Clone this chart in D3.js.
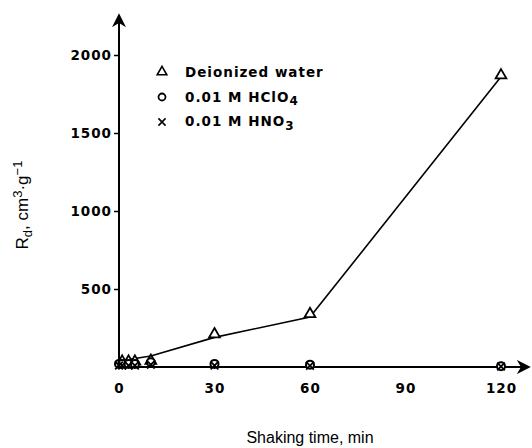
<!DOCTYPE html>
<html>
<head>
<meta charset="utf-8">
<script src="https://cdn.jsdelivr.net/npm/d3@7"></script>
<style>
  body { margin: 0; background: #fff; }
  svg { display: block; }
  .tick text { font-family: "DejaVu Sans", sans-serif; font-weight: bold; font-size: 13.5px; letter-spacing: 1px; fill: #000; }
</style>
</head>
<body>
<svg id="chart" width="532" height="448"></svg>
<script>
// shaking time (min) and Rd values
const waterTimes = [1, 3, 5, 10, 30, 60, 120];
const waterRd = [35, 35, 35, 40, 210, 340, 1870];
// line drawn through the water points
const fitTimes = [2, 10, 30, 60, 120];
const fitRd = [45, 70, 190, 320, 1860];
const hclo4Times = [0, 1, 3, 5, 10, 30, 60, 120];
const hclo4Rd = [20, 20, 20, 20, 30, 20, 15, 5];
const hno3Times = [0, 1, 3, 5, 10, 30, 60, 120];
const hno3Rd = [10, 10, 10, 10, 15, 10, 8, 3];
const xTicks = [0, 30, 60, 90, 120];
const yTicks = [500, 1000, 1500, 2000];

const svg = d3.select("#chart");
const x = d3.scaleLinear().domain([0, 120]).range([119, 501]);
const y = d3.scaleLinear().domain([0, 2000]).range([367, 55]);

// axes with arrow heads
svg.append("defs").append("marker")
  .attr("id", "arrow").attr("viewBox", "0 0 10 10")
  .attr("refX", 8).attr("refY", 5)
  .attr("markerWidth", 7).attr("markerHeight", 7)
  .attr("orient", "auto")
  .append("path").attr("d", "M0,0 L10,5 L0,10 L3,5 Z").attr("fill", "#000");

svg.append("line").attr("x1", x(0)).attr("y1", y(0)).attr("x2", x(0)).attr("y2", 16)
  .attr("stroke", "#000").attr("stroke-width", 2).attr("marker-end", "url(#arrow)");
svg.append("line").attr("x1", x(0)).attr("y1", y(0)).attr("x2", 528).attr("y2", y(0))
  .attr("stroke", "#000").attr("stroke-width", 2).attr("marker-end", "url(#arrow)");

const yAxis = svg.append("g").attr("transform", `translate(${x(0)},0)`)
  .call(d3.axisLeft(y).tickValues(yTicks).tickFormat(d3.format("d")).tickSize(5).tickPadding(2));
yAxis.select(".domain").remove();
yAxis.selectAll(".tick line").attr("stroke-width", 1.5);

const xAxis = svg.append("g").attr("transform", `translate(0,${y(0)})`)
  .call(d3.axisBottom(x).tickValues(xTicks).tickFormat(d3.format("d")).tickSize(0).tickPadding(16));
xAxis.select(".domain").remove();

// fitted line
svg.append("path")
  .datum(fitTimes.map((t, i) => [t, fitRd[i]]))
  .attr("fill", "none").attr("stroke", "#000").attr("stroke-width", 1.6)
  .attr("d", d3.line().x(d => x(d[0])).y(d => y(d[1])));

// markers
const tri = d3.symbol().type(d3.symbolTriangle).size(50);
svg.append("g").selectAll("path")
  .data(waterTimes.map((t, i) => [t, waterRd[i]]))
  .join("path")
  .attr("transform", d => `translate(${x(d[0])},${y(d[1])})`)
  .attr("d", tri).attr("fill", "#fff").attr("stroke", "#000").attr("stroke-width", 1.8);

svg.append("g").selectAll("circle")
  .data(hclo4Times.map((t, i) => [t, hclo4Rd[i]]))
  .join("circle")
  .attr("cx", d => x(d[0])).attr("cy", d => y(d[1])).attr("r", 4)
  .attr("fill", "#fff").attr("stroke", "#000").attr("stroke-width", 2);

const cross = d3.symbol().type(d3.symbolX).size(40);
svg.append("g").selectAll("path")
  .data(hno3Times.map((t, i) => [t, hno3Rd[i]]))
  .join("path")
  .attr("transform", d => `translate(${x(d[0])},${y(d[1])})`)
  .attr("d", cross).attr("fill", "none").attr("stroke", "#000").attr("stroke-width", 1.8);

// legend
const lg = svg.append("g").attr("font-family", "DejaVu Sans, sans-serif")
  .attr("font-weight", "bold").attr("font-size", 13.5).attr("letter-spacing", 1);
lg.append("path").attr("transform", "translate(162,72)")
  .attr("d", d3.symbol().type(d3.symbolTriangle).size(40))
  .attr("fill", "#fff").attr("stroke", "#000").attr("stroke-width", 1.6);
lg.append("text").attr("x", 185).attr("y", 77).text("Deionized water");
lg.append("circle").attr("cx", 162).attr("cy", 97).attr("r", 3.5)
  .attr("fill", "#fff").attr("stroke", "#000").attr("stroke-width", 1.8);
const t2 = lg.append("text").attr("x", 185).attr("y", 102);
t2.append("tspan").text("0.01 M HClO");
t2.append("tspan").attr("dy", 3).attr("font-size", 12).text("4");
lg.append("path").attr("transform", "translate(162,122)")
  .attr("d", d3.symbol().type(d3.symbolX).size(35))
  .attr("fill", "none").attr("stroke", "#000").attr("stroke-width", 1.6);
const t3 = lg.append("text").attr("x", 185).attr("y", 126);
t3.append("tspan").text("0.01 M HNO");
t3.append("tspan").attr("dy", 4).attr("font-size", 12).text("3");

// axis titles
svg.append("text").attr("x", 310).attr("y", 443).attr("text-anchor", "middle")
  .attr("font-family", "Liberation Sans, Arial, sans-serif").attr("font-size", 16)
  .text("Shaking time, min");

const yt = svg.append("text").attr("transform", "translate(28,205) rotate(-90)")
  .attr("text-anchor", "middle")
  .attr("font-family", "Liberation Sans, Arial, sans-serif").attr("font-size", 17);
yt.append("tspan").text("R");
yt.append("tspan").attr("dy", 4).attr("font-size", 13).text("d");
yt.append("tspan").attr("dy", -4).text(", cm");
yt.append("tspan").attr("dy", -6).attr("font-size", 13).text("3");
yt.append("tspan").attr("dy", 6).text("·g");
yt.append("tspan").attr("dy", -6).attr("font-size", 13).text("−1");
</script>
</body>
</html>
